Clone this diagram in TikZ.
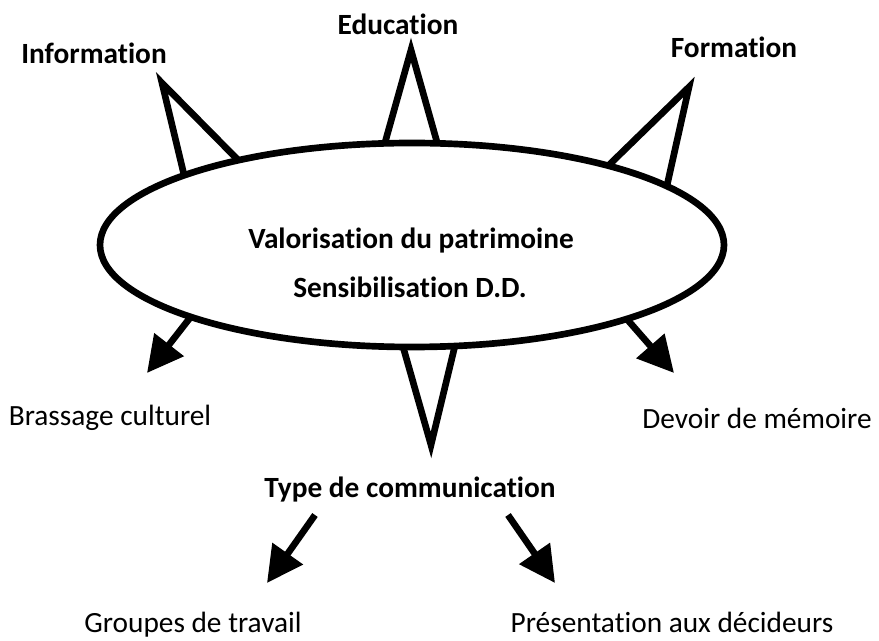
\documentclass[tikz,border=0pt]{standalone}
\usepackage{fontspec}
\setmainfont{Carlito}[Ligatures=CommonOff]
\usetikzlibrary{arrows.meta,shapes.geometric}

\begin{document}
\begin{tikzpicture}[x=0.75pt, y=-0.75pt,
    every node/.style={font=\fontsize{22}{26}\selectfont},
    head/.style={font=\fontsize{22}{26}\selectfont\bfseries},
    spike/.style={line width=5pt, line join=miter, miter limit=20},
    push/.style={line width=5pt, -{Triangle[length=27pt, width=27pt]}}]
    \useasboundingbox (0,0) rectangle (879,641);

    \node[draw, ellipse, line width=5pt, outer sep=0pt, inner sep=0pt,
          minimum width=468pt, minimum height=153pt] (core) at (412,245) {};
    \node[head] (valo) at (411,241) {Valorisation du patrimoine};
    \node[head] (sens) at (410,287) {Sensibilisation D.D.};

    \node[head] (info) at (94,53) {Information};
    \node[head] (edu) at (398,24) {Education};
    \node[head] (form) at (734,47) {Formation};
    \node[head] (type) at (410,490) {Type de communication};
    \node (brassage) at (110,418) {Brassage culturel};
    \node (devoir) at (757,418) {Devoir de mémoire};
    \node[anchor=base, inner sep=1pt] (groupes) at (193,633) {Groupes de travail};
    \node[anchor=base, inner sep=1pt] (pres) at (672,633) {Présentation aux décideurs};

    \coordinate (infotip) at (162,83);
    \coordinate (edutip) at (411,50);
    \coordinate (formtip) at (689,87);
    \coordinate (typetip) at (431,445);
    \coordinate (brassagetip) at (147,373);
    \coordinate (devoirtip) at (674,373);
    \coordinate (groupesfoot) at (315,515);
    \coordinate (groupestip) at (267,583);
    \coordinate (presfoot) at (508,515);
    \coordinate (prestip) at (555,583);

    \draw[spike] (core.163) -- (infotip) -- (core.154);
    \draw[spike] (core.105.4) -- (edutip) -- (core.76.6);
    \draw[spike] (core.22) -- (formtip) -- (core.13.1);
    \draw[spike] (core.265.1) -- (typetip) -- (core.293.7);

    \draw[push] (core.198.7) -- (brassagetip);
    \draw[push] (core.341.2) -- (devoirtip);
    \draw[push] (groupesfoot) -- (groupestip);
    \draw[push] (presfoot) -- (prestip);
\end{tikzpicture}
\end{document}
